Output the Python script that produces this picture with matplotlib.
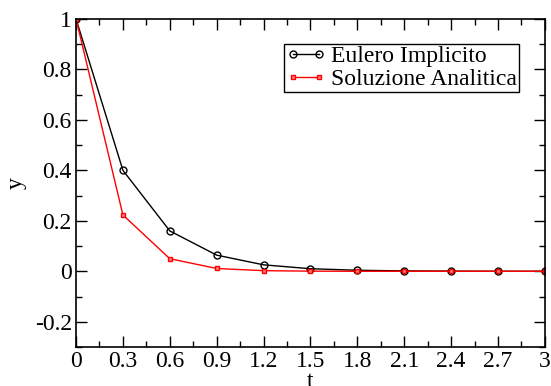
import matplotlib
matplotlib.use("Agg")
import matplotlib.pyplot as plt
from matplotlib.ticker import MultipleLocator

t = [0.0, 0.3, 0.6, 0.9, 1.2, 1.5, 1.8, 2.1, 2.4, 2.7, 3.0]
y_eulero = [1.0, 0.4, 0.16, 0.064, 0.0256, 0.0102, 0.0041, 0.0016, 0.0007, 0.0003, 0.0001]
y_analitica = [1.0, 0.2231, 0.0498, 0.0111, 0.0025, 0.0006, 0.0001, 0.0, 0.0, 0.0, 0.0]
x_labels = ["0", "0.3", "0.6", "0.9", "1.2", "1.5", "1.8", "2.1", "2.4", "2.7", "3"]

plt.rcParams["font.family"] = ["Liberation Serif", "DejaVu Serif"]

fig = plt.figure(figsize=(5.51, 3.86), dpi=100)
ax = fig.add_axes([0.138, 0.101, 0.851, 0.850])

ax.plot(t, y_eulero, color="black", linewidth=1.0, marker="o", markersize=5,
        markerfacecolor="none", markeredgecolor="black", markeredgewidth=1.0,
        label="Eulero Implicito")
ax.plot(t, y_analitica, color="red", linewidth=1.0, marker="s", markersize=3.5,
        markerfacecolor="#ff8080", markeredgecolor="red", markeredgewidth=1.0,
        label="Soluzione Analitica")

ax.set_xlim(0, 3)
ax.set_ylim(-0.3, 1.0)
ax.set_xticks(t)
ax.set_xticklabels(x_labels)
ax.xaxis.set_minor_locator(MultipleLocator(0.15))
ax.set_yticks([-0.2, 0, 0.2, 0.4, 0.6, 0.8, 1.0])
ax.set_yticklabels(["-0.2", "0", "0.2", "0.4", "0.6", "0.8", "1"])
ax.yaxis.set_minor_locator(MultipleLocator(0.1))

ax.tick_params(which="both", direction="in", top=True, right=True,
               labelsize=17, width=1.0, color="black", pad=3)
ax.tick_params(which="major", length=8)
ax.tick_params(which="minor", length=4)
for s in ax.spines.values():
    s.set_linewidth(1.2)

# the reference also has "t" half below the frame edge
ax.set_xlabel("t", fontsize=17, labelpad=-1)
ax.set_ylabel("y", fontsize=17, labelpad=6)

leg = ax.legend(loc="upper right", bbox_to_anchor=(0.945, 0.925), fontsize=17,
                frameon=True, fancybox=False, framealpha=1, edgecolor="black",
                numpoints=2, handlelength=1.7, handletextpad=0.2, borderpad=0.1,
                labelspacing=0.05, borderaxespad=0)
leg.get_frame().set_linewidth(1.0)

fig.savefig("out.png", dpi=100)
